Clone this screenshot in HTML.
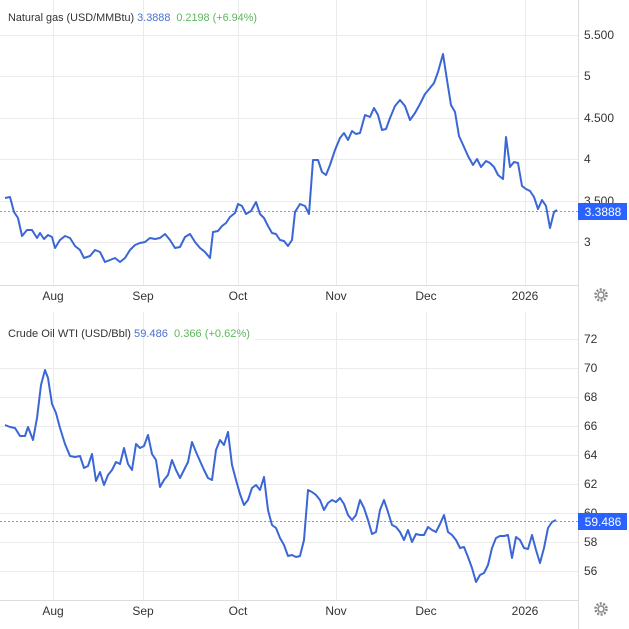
<!DOCTYPE html>
<html><head><meta charset="utf-8"><style>
body{margin:0;background:#fff;}
svg{display:block;font-family:"Liberation Sans",sans-serif;}
</style></head><body>
<svg width="629" height="629" viewBox="0 0 629 629">
<g stroke="#ebebeb" stroke-width="1">
<line x1="0" y1="35.5" x2="578" y2="35.5"/><line x1="0" y1="76.5" x2="578" y2="76.5"/><line x1="0" y1="118.5" x2="578" y2="118.5"/><line x1="0" y1="159.5" x2="578" y2="159.5"/><line x1="0" y1="201.5" x2="578" y2="201.5"/><line x1="0" y1="242.5" x2="578" y2="242.5"/>
<line x1="53.5" y1="0" x2="53.5" y2="285"/><line x1="143.5" y1="0" x2="143.5" y2="285"/><line x1="238.5" y1="0" x2="238.5" y2="285"/><line x1="336.5" y1="0" x2="336.5" y2="285"/><line x1="426.5" y1="0" x2="426.5" y2="285"/><line x1="525.5" y1="0" x2="525.5" y2="285"/>
<line x1="255" y1="339.5" x2="578" y2="339.5"/><line x1="0" y1="368.5" x2="578" y2="368.5"/><line x1="0" y1="397.5" x2="578" y2="397.5"/><line x1="0" y1="426.5" x2="578" y2="426.5"/><line x1="0" y1="455.5" x2="578" y2="455.5"/><line x1="0" y1="484.5" x2="578" y2="484.5"/><line x1="0" y1="513.5" x2="578" y2="513.5"/><line x1="0" y1="542.5" x2="578" y2="542.5"/><line x1="0" y1="571.5" x2="578" y2="571.5"/>
<line x1="53.5" y1="312" x2="53.5" y2="600"/><line x1="143.5" y1="312" x2="143.5" y2="600"/><line x1="238.5" y1="312" x2="238.5" y2="600"/><line x1="336.5" y1="312" x2="336.5" y2="600"/><line x1="426.5" y1="312" x2="426.5" y2="600"/><line x1="525.5" y1="312" x2="525.5" y2="600"/>
</g>
<g stroke="#dcdcdc"><line x1="0" y1="285.5" x2="578" y2="285.5"/><line x1="0" y1="600.5" x2="578" y2="600.5"/><line x1="578.5" y1="0" x2="578.5" y2="629"/></g>
<text x="8" y="21" font-size="11" fill="#333" textLength="249" lengthAdjust="spacingAndGlyphs">Natural gas (USD/MMBtu) <tspan fill="#4a6fd1">3.3888</tspan>  <tspan fill="#5cb85c" dx="3">0.2198 (+6.94%)</tspan></text>
<text x="8" y="337" font-size="11" fill="#333" textLength="242" lengthAdjust="spacingAndGlyphs">Crude Oil WTI (USD/Bbl) <tspan fill="#4a6fd1">59.486</tspan>  <tspan fill="#5cb85c" dx="3">0.366 (+0.62%)</tspan></text>
<g font-size="12" fill="#333">
<text x="584" y="39">5.500</text><text x="584" y="80">5</text><text x="584" y="122">4.500</text><text x="584" y="163">4</text><text x="584" y="205">3.500</text><text x="584" y="246">3</text>
<text x="584" y="343">72</text><text x="584" y="372">70</text><text x="584" y="401">68</text><text x="584" y="430">66</text><text x="584" y="459">64</text><text x="584" y="488">62</text><text x="584" y="517">60</text><text x="584" y="546">58</text><text x="584" y="575">56</text>
</g>
<g font-size="12" fill="#333" text-anchor="middle">
<text x="53" y="300">Aug</text><text x="143" y="300">Sep</text><text x="238" y="300">Oct</text><text x="336" y="300">Nov</text><text x="426" y="300">Dec</text><text x="525" y="300">2026</text>
<text x="53" y="615">Aug</text><text x="143" y="615">Sep</text><text x="238" y="615">Oct</text><text x="336" y="615">Nov</text><text x="426" y="615">Dec</text><text x="525" y="615">2026</text>
</g>
<g stroke="#8a9bc4" stroke-dasharray="2,2"><line x1="0" y1="211.5" x2="578" y2="211.5"/><line x1="0" y1="521.5" x2="578" y2="521.5"/></g>
<rect x="578" y="203" width="49" height="17" fill="#2962ff"/><text x="603" y="216" font-size="12" fill="#fff" text-anchor="middle">3.3888</text>
<rect x="578" y="513" width="49" height="17" fill="#2962ff"/><text x="603" y="526" font-size="12" fill="#fff" text-anchor="middle">59.486</text>
<g fill="none" stroke="#888" stroke-width="1.5"><circle cx="601" cy="295" r="3"/><circle cx="601" cy="295" r="5.5" stroke-dasharray="2,1.5" stroke-width="2.5"/><circle cx="601" cy="609" r="3"/><circle cx="601" cy="609" r="5.5" stroke-dasharray="2,1.5" stroke-width="2.5"/></g>
<g fill="none" stroke="#3a66d6" stroke-width="2" stroke-linejoin="round">
<polyline points="5,198 10,197 14,212 18,218 22,236 27,230 32,230 37,238 40,233 44,239 48,235 52,237 55,248 60,240 65,236 70,238 75,246 80,250 84,258 90,256 95,250 100,252 105,262 110,260 115,258 120,262 125,258 130,250 135,245 140,243 145,242 150,238 155,239 160,238 165,234 170,240 175,248 180,247 185,237 190,234 195,242 200,248 205,252 210,258 213,232 218,231 222,226 226,223 230,217 235,213 238,204 242,206 246,214 251,211 256,202 260,214 264,218 268,226 272,233 276,234 280,240 284,241 288,246 292,240 295,212 300,204 305,206 309,214 313,160 318,160 322,172 326,175 330,165 335,150 340,138 344,133 348,140 352,131 356,134 360,133 365,115 370,117 374,108 378,115 382,130 386,129 390,118 395,106 400,100 405,106 410,120 415,113 420,104 425,94 430,88 434,83 438,72 443,54 447,80 451,105 455,112 459,136 464,147 468,156 473,165 477,159 481,167 486,161 490,163 494,167 498,175 503,179 506,137 510,167 514,162 518,163 522,186 526,189 530,191 534,197 538,209 542,200 546,206 550,228 554,212 557,210"/>
<polyline points="5,425 10,427 15,428 20,436 25,436 28,427 33,440 37,418 41,385 45,370 48,378 52,404 56,413 60,428 65,444 70,456 75,457 80,456 84,468 88,466 92,454 96,481 100,472 104,485 108,475 112,470 116,462 120,464 124,448 128,464 132,470 136,444 140,448 144,446 148,435 152,454 156,460 160,487 164,480 168,475 172,460 176,470 180,478 184,470 188,462 192,442 196,452 200,461 204,470 208,478 212,480 216,450 220,440 224,445 228,432 232,465 236,480 240,494 244,505 248,500 252,488 256,485 260,490 264,477 268,510 272,525 276,528 280,538 284,545 288,556 292,555 296,557 300,556 304,540 308,490 312,492 316,495 320,500 324,510 328,503 332,500 336,502 340,498 344,504 348,515 352,520 356,515 360,500 364,508 368,520 372,534 376,532 380,510 384,500 388,512 392,525 396,527 400,532 404,540 408,530 412,542 416,534 420,535 424,535 428,527 432,530 436,532 440,524 444,515 448,532 452,535 456,540 460,548 464,547 468,557 472,568 476,582 480,575 484,573 488,565 492,548 496,538 500,536 504,536 508,535 512,558 516,537 520,540 524,548 528,549 532,535 536,550 540,563 544,548 548,528 552,522 556,520"/>
</g>
</svg>
</body></html>
